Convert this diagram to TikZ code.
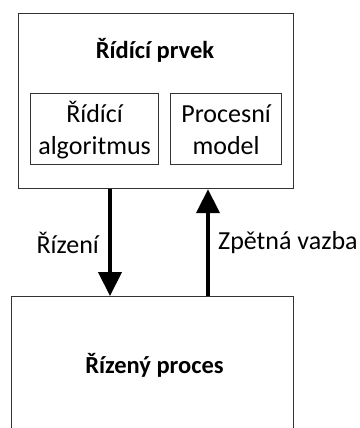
\documentclass[tikz,border=0pt]{standalone}
\usepackage{fontspec}
\setmainfont{Carlito}
\usetikzlibrary{arrows.meta}
\begin{document}
\begin{tikzpicture}[x=1bp,y=-1bp,
  boxline/.style={draw=black!80, line width=1.2bp},
  txt/.style={font=\fontsize{26bp}{32bp}\selectfont, inner sep=0pt, text=black},
  btxt/.style={txt, font=\fontsize{24.5bp}{30bp}\selectfont\bfseries},
  bigarrow/.style={line width=4.2bp, -{Triangle[width=23bp,length=24bp]}}]
\path[use as bounding box] (0,0) rectangle (360,428);
\clip (0,0) rectangle (360,428);
% boxes
\node[boxline, minimum width=275bp, minimum height=175bp, anchor=north west, inner sep=0pt] (ctrl) at (18,13) {};
\node[boxline, minimum width=128bp, minimum height=71bp, anchor=north west, inner sep=0pt] (alg) at (30,93) {};
\node[boxline, minimum width=111bp, minimum height=71bp, anchor=north west, inner sep=0pt] (model) at (170,93) {};
\node[boxline, minimum width=282bp, minimum height=160bp, anchor=north west, inner sep=0pt] (proc) at (11,296) {};
% texts
\node[btxt, anchor=base] (title) at (155,58) {Řídící prvek};
\node[txt, anchor=base, align=center] (algtxt) at (alg.center |- 0,154) {Řídící\\algoritmus};
\node[txt, anchor=base, align=center] (modeltxt) at (model.center |- 0,154) {Procesní\\model};
\node[btxt, anchor=base] (proctxt) at (154.5,373) {Řízený proces};
% arrows
\coordinate (dx) at (110,0);
\coordinate (ux) at (208,0);
\draw[bigarrow] (dx |- ctrl.south) -- node[txt, left=9bp] (lr) {Řízení} (dx |- proc.north);
\draw[bigarrow] (ux |- proc.north) -- node[txt, right=8bp] (lz) {Zpětná vazba} (ux |- ctrl.south);
\end{tikzpicture}
\end{document}
